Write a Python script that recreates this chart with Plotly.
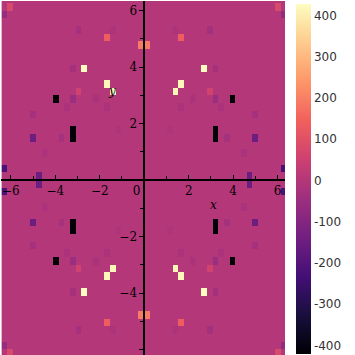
import numpy as np
import plotly.graph_objects as go

# heatmap grid (cell centres)
n_x, n_y = 50, 50
x_first, x_step = -6.2832, 0.25646
y_first, y_step = -6.6787, 0.2726
background_value = 0

# notable cells (cell-centre x, cell-centre y, value), by quadrant
cell_x = [
    0.13, 1.67, 2.95, 1.41, 2.69, 3.21, 2.95, 1.67, 1.41, 3.97, 3.21, 3.21, 5.00, 5.00, 3.72, 4.74, 6.28, 4.49, 6.03, 6.28, 3.21, 3.46, 2.18, 1.67, 1.15,
    -0.13, -1.67, -2.95, -1.41, -2.69, -3.21, -2.95, -1.67, -1.41, -3.97, -3.21, -3.21, -5.00, -5.00, -3.72, -4.74, -6.28, -4.49, -6.03, -6.28, -3.21, -3.46, -2.18, -1.67, -1.15,
    -0.13, -1.67, -2.95, -1.41, -2.69, -3.21, -2.95, -1.67, -1.41, -3.97, -3.21, -3.21, -5.00, -5.00, -3.72, -4.74, -6.28, -4.49, -6.03, -6.28, -3.21, -3.46, -2.18, -1.67, -1.15,
    0.13, 1.67, 2.95, 1.41, 2.69, 3.21, 2.95, 1.67, 1.41, 3.97, 3.21, 3.21, 5.00, 5.00, 3.72, 4.74, 6.28, 4.49, 6.03, 6.28, 3.21, 3.46, 2.18, 1.67, 1.15,
]
cell_y = [
    4.77, 5.04, 5.32, 5.32, 3.95, 3.95, 3.13, 3.41, 3.13, 2.86, 1.77, 1.50, 1.50, 2.32, 1.50, 0.14, 0.41, 0.95, 6.13, 5.86, 2.86, 2.59, 2.86, 2.59, 1.77,
    4.77, 5.04, 5.32, 5.32, 3.95, 3.95, 3.13, 3.41, 3.13, 2.86, 1.77, 1.50, 1.50, 2.32, 1.50, 0.14, 0.41, 0.95, 6.13, 5.86, 2.86, 2.59, 2.86, 2.59, 1.77,
    -4.77, -5.04, -5.32, -5.32, -3.95, -3.95, -3.13, -3.41, -3.13, -2.86, -1.77, -1.50, -1.50, -2.32, -1.50, -0.14, -0.41, -0.95, -6.13, -5.86, -2.86, -2.59, -2.86, -2.59, -1.77,
    -4.77, -5.04, -5.32, -5.32, -3.95, -3.95, -3.13, -3.41, -3.13, -2.86, -1.77, -1.50, -1.50, -2.32, -1.50, -0.14, -0.41, -0.95, -6.13, -5.86, -2.86, -2.59, -2.86, -2.59, -1.77,
]
cell_z = [
    190, 140, -30, -15, 428, -30, 60, 415, 415, -420, -415, -415, -150, -30, -25, -150, -220, -20, 80, -60, -50, -20, -20, -20, -12,
    190, 140, -30, -15, 428, -30, 60, 415, 415, -420, -415, -415, -150, -30, -25, -150, -220, -20, 80, -60, -50, -20, -20, -20, -12,
    190, 140, -30, -15, 428, -30, 60, 415, 415, -420, -415, -415, -150, -30, -25, -150, -220, -20, 80, -60, -50, -20, -20, -20, -12,
    190, 140, -30, -15, 428, -30, 60, 415, 415, -420, -415, -415, -150, -30, -25, -150, -220, -20, 80, -60, -50, -20, -20, -20, -12,
]

x_tick_vals = [-6, -4, -2, 0, 2, 4, 6]
x_tick_text = ["\u22126", "\u22124", "\u22122", "0\u00a0\u00a0\u00a0\u00a0", "2", "4", "6"]
y_tick_vals = [-6, -4, -2, 2, 4, 6]
y_tick_text = ["\u22126", "\u22124", "\u22122", "2", "4", "6"]
minor_vals = [-5, -3, -1, 1, 3, 5]
cbar_vals = [-400, -300, -200, -100, 0, 100, 200, 300, 400]
cbar_text = ["-400", "-300", "-200", "-100", "0", "100", "200", "300", "400"]

z = np.full((n_y, n_x), float(background_value))
for cx, cy, cz in zip(cell_x, cell_y, cell_z):
    c = int(round((cx - x_first) / x_step))
    r = int(round((cy - y_first) / y_step))
    z[r, c] = cz

x_range = [-6.44, 6.33]
y_range = [-6.19, 6.34]

fig = go.Figure(go.Heatmap(
    z=z, x0=x_first, dx=x_step, y0=y_first, dy=y_step,
    colorscale="Magma",
    colorbar=dict(
        thickness=15, x=1.0387, xanchor="left", xpad=0,
        len=0.9875, y=0.4977, yanchor="middle", ypad=0,
        outlinewidth=0, ticks="",
        tickmode="array", tickvals=cbar_vals, ticktext=cbar_text,
        tickfont=dict(family="DejaVu Sans", size=12, color="#333"),
    ),
))

axis_font = dict(family="DejaVu Serif", size=12, color="black")
fig.update_layout(
    width=355, height=355,
    margin=dict(l=1, r=70, t=1, b=0, autoexpand=False),
    paper_bgcolor="white", plot_bgcolor="white",
    xaxis=dict(
        range=x_range, anchor="free", automargin=False,
        position=(0 - y_range[0]) / (y_range[1] - y_range[0]),
        side="bottom", showgrid=False, zeroline=False,
        showline=True, linecolor="black", linewidth=1.5,
        ticks="inside", ticklen=4, tickwidth=1, tickcolor="black",
        tickmode="array", tickvals=x_tick_vals, ticktext=x_tick_text,
        tickfont=axis_font,
        minor=dict(tickmode="array", tickvals=minor_vals, ticks="inside",
                   ticklen=3, tickcolor="black", showgrid=False),
    ),
    yaxis=dict(
        range=y_range, anchor="free", automargin=False,
        position=(0 - x_range[0]) / (x_range[1] - x_range[0]),
        side="left", showgrid=False, zeroline=False,
        showline=True, linecolor="black", linewidth=1.5,
        ticks="outside", ticklen=4, tickwidth=1, tickcolor="black",
        tickmode="array", tickvals=y_tick_vals, ticktext=y_tick_text,
        tickfont=axis_font,
        minor=dict(tickmode="array", tickvals=minor_vals, ticks="outside",
                   ticklen=3, tickcolor="black", showgrid=False),
    ),
    annotations=[
        dict(x=3.13, y=-0.88, xref="x", yref="y", text="x", showarrow=False,
             font=dict(family="DejaVu Serif", size=12, color="black", style="italic")),
        dict(x=-1.46, y=3.15, xref="x", yref="y", text="y", showarrow=False,
             font=dict(family="DejaVu Serif", size=12, color="black", style="italic")),
    ],
)

fig.write_html("out.html",
               config={"displayModeBar": False},
               post_script="document.body.style.margin='0';document.body.style.overflow='hidden';")
